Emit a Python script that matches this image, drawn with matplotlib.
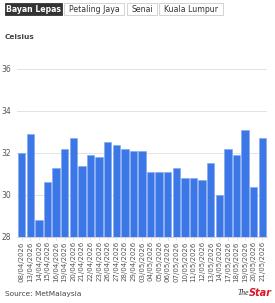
import matplotlib.pyplot as plt
from matplotlib.patches import Rectangle

dates = ['08/04/2026', '13/04/2026', '14/04/2026', '15/04/2026', '16/04/2026',
         '19/04/2026', '20/04/2026', '21/04/2026', '22/04/2026', '23/04/2026',
         '26/04/2026', '27/04/2026', '28/04/2026', '29/04/2026', '03/05/2026',
         '04/05/2026', '05/05/2026', '06/05/2026', '07/05/2026', '10/05/2026',
         '11/05/2026', '12/05/2026', '13/05/2026', '14/05/2026', '17/05/2026',
         '18/05/2026', '19/05/2026', '20/05/2026', '21/05/2026']
temps = [32.0, 32.9, 28.8, 30.6, 31.3, 32.2, 32.7, 31.4, 31.9, 31.8,
         32.5, 32.4, 32.2, 32.1, 32.1, 31.1, 31.1, 31.1, 31.3, 30.8,
         30.8, 30.7, 31.5, 30.0, 32.2, 31.9, 33.1, 30.4, 32.7]
yticks = [28, 30, 32, 34, 36]
tabs = ['Bayan Lepas', 'Petaling Jaya', 'Senai', 'Kuala Lumpur']

W, H = 275, 303
fig = plt.figure(figsize=(W / 100, H / 100), dpi=100)
ax = fig.add_axes([17 / W, 1 - 237 / H, 250 / W, 189 / H])

x = range(len(temps))
ax.bar(x, [t - 28 for t in temps], bottom=28, width=0.86, color='#3b77e6',
       edgecolor='#7da6f0', linewidth=0.4, zorder=3)
ax.set_ylim(28, 37)
ax.set_xlim(-0.55, len(temps) - 0.45)
ax.set_yticks(yticks)
ax.set_yticklabels([str(v) for v in yticks], fontsize=5.5, color='#555555')
ax.set_xticks(list(x))
ax.set_xticklabels(dates, rotation=90, fontsize=5, color='#555555')
ax.tick_params(axis='y', length=0, pad=4)
ax.tick_params(axis='x', length=2, width=0.4, color='#cccccc', pad=1)
ax.grid(axis='y', color='#e3e3e3', linewidth=0.7, zorder=0)
for s in ['top', 'right', 'left']:
    ax.spines[s].set_visible(False)
ax.spines['bottom'].set_color('#cccccc')
ax.spines['bottom'].set_linewidth(0.6)

# tabs
tab_x = [5, 64, 127, 159]
tab_w = [57, 60, 30, 64]
for i, name in enumerate(tabs):
    x0, w = tab_x[i], tab_w[i]
    active = i == 0
    fig.patches.append(Rectangle((x0 / W, 1 - 15 / H), w / W, 12 / H,
                                 transform=fig.transFigure,
                                 facecolor='#333333' if active else 'white',
                                 edgecolor='#333333' if active else '#cccccc',
                                 linewidth=0.6))
    fig.text((x0 + w / 2) / W, 1 - 9 / H, name, ha='center', va='center',
             fontsize=5.6, color='white' if active else '#333333',
             fontweight='bold' if active else 'normal')

fig.text(5 / W, 1 - 37 / H, 'Celsius', fontsize=5.3, color='#444444',
         fontweight='bold', va='center')
fig.text(5 / W, 1 - 294 / H, 'Source: MetMalaysia', fontsize=5.3,
         color='#444444', va='center')
fig.text(249 / W, 1 - 293 / H, 'The', fontsize=5.5, color='#222222',
         style='italic', fontfamily='Liberation Serif', ha='right', va='center')
fig.text(249 / W, 1 - 293 / H, 'Star', fontsize=7, color='#d7192a',
         style='italic', fontweight='bold', ha='left', va='center')

fig.savefig('out.png', dpi=100)
